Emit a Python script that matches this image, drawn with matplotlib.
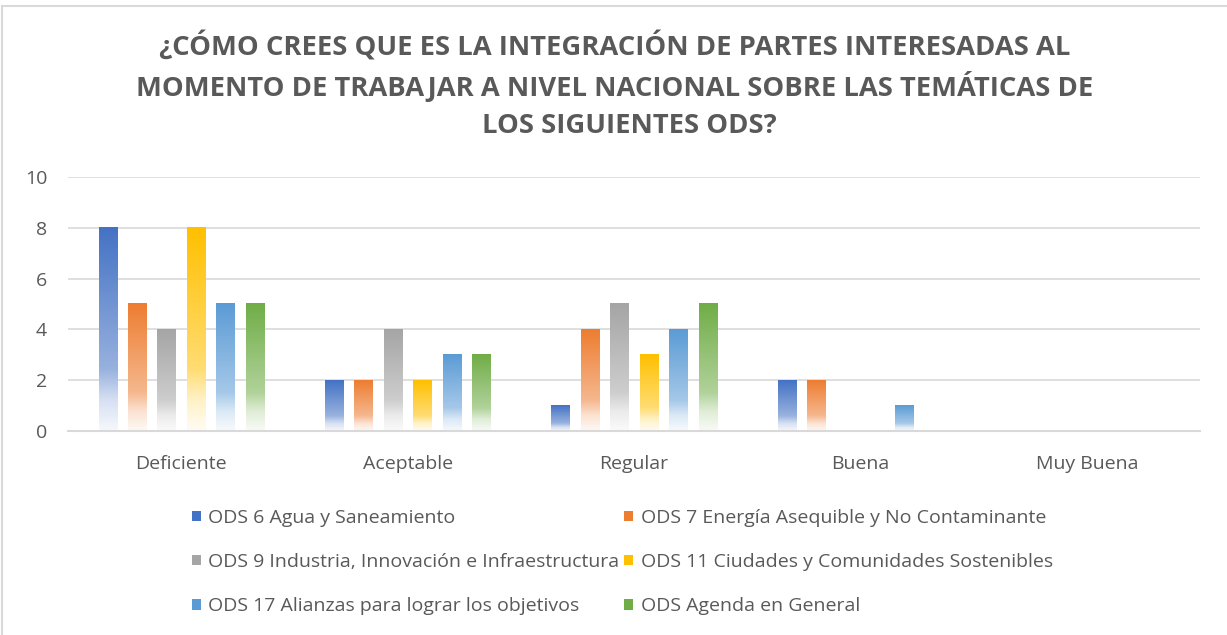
import numpy as np
import matplotlib.pyplot as plt
from matplotlib.patches import Patch, Rectangle
from matplotlib.colors import to_rgb

plt.rcParams['font.family'] = ['Open Sans', 'DejaVu Sans']

title_lines = ["¿CÓMO CREES QUE ES LA INTEGRACIÓN DE PARTES INTERESADAS AL",
               "MOMENTO DE TRABAJAR A NIVEL NACIONAL SOBRE LAS TEMÁTICAS DE",
               "LOS SIGUIENTES ODS?"]
categories = ["Deficiente", "Aceptable", "Regular", "Buena", "Muy Buena"]
series_names = [
    "ODS 6 Agua y Saneamiento",
    "ODS 7 Energía Asequible y No Contaminante",
    "ODS 9 Industria, Innovación e Infraestructura",
    "ODS 11 Ciudades y Comunidades Sostenibles",
    "ODS 17 Alianzas para lograr los objetivos",
    "ODS Agenda en General",
]
ods6 = [8, 2, 1, 2, 0]
ods7 = [5, 2, 4, 2, 0]
ods9 = [4, 4, 5, 0, 0]
ods11 = [8, 2, 3, 0, 0]
ods17 = [5, 3, 4, 1, 0]
agenda = [5, 3, 5, 0, 0]
series_values = [ods6, ods7, ods9, ods11, ods17, agenda]
colors = ["#4472C4", "#ED7D31", "#A5A5A5", "#FFC000", "#5B9BD5", "#70AD47"]

text_gray = "#595959"

fig = plt.figure(figsize=(12.27, 6.35), dpi=100)
ax = fig.add_axes([0.0554, 0.3213, 0.9226, 0.4])

x = np.arange(len(categories))
step = 0.13
width = 0.08


def gradient_img(color):
    c = np.array(to_rgb(color))
    w = np.ones(3)
    # position from top (0) to bottom (1) -> share of the colour kept
    stops_pos = [0.0, 0.70, 0.85, 1.0]
    stops_amt = [1.0, 0.55, 0.22, 0.05]
    t = np.linspace(0, 1, 100)
    amt = np.interp(t, stops_pos, stops_amt)
    rgb = amt[:, None] * c + (1 - amt[:, None]) * w
    return rgb[:, None, :]


for i, (vals, col) in enumerate(zip(series_values, colors)):
    bars = ax.bar(x + (i - 2.5) * step, vals, width, color="none",
                  edgecolor="none", zorder=2)
    img = gradient_img(col)
    for b in bars:
        h = b.get_height()
        if h <= 0:
            continue
        x0 = b.get_x()
        ax.imshow(img, extent=[x0, x0 + b.get_width(), 0, h],
                  aspect="auto", origin="upper", zorder=2,
                  interpolation="bilinear")

ax.set_xlim(-0.5, len(categories) - 0.5)
ax.set_ylim(0, 10)
ax.set_yticks(range(0, 11, 2))
ax.set_xticks(x)
ax.set_xticklabels(categories)
ax.tick_params(axis="both", length=0, colors=text_gray, labelsize=14)
ax.tick_params(axis="x", pad=17.5)
ax.tick_params(axis="y", pad=15)
ax.grid(axis="y", color="#D9D9D9", linewidth=1.2, zorder=0)
ax.set_axisbelow(True)
for s in ["top", "right", "left"]:
    ax.spines[s].set_visible(False)
ax.spines["bottom"].set_color("#D9D9D9")
ax.spines["bottom"].set_linewidth(1.5)

title_y = [47, 86, 126]
title_x = [0.501, 0.501, 0.5126]
for line, ty, tx in zip(title_lines, title_y, title_x):
    fig.text(tx, 1 - ty / 635, line, ha="center", va="center", fontsize=19.7,
             fontweight="bold", color=text_gray)

# row-major order like the reference (matplotlib fills legend by column)
order = [0, 2, 4, 1, 3, 5]
handles = [Patch(facecolor=colors[k], edgecolor="none") for k in order]
labels = [series_names[k] for k in order]
fig.legend(handles, labels, loc="upper left",
           bbox_to_anchor=(0.150, 0.211), ncol=2, frameon=False,
           fontsize=14, labelcolor=text_gray, handlelength=0.45,
           handleheight=0.45, handletextpad=0.4, columnspacing=0.25,
           labelspacing=1.35, borderaxespad=0)

# outer frame like the chart area border
fig.patches.append(Rectangle((0.002, -0.01), 1.2, 1.0, transform=fig.transFigure,
                             fill=False, edgecolor="#D9D9D9", linewidth=1.5))

fig.savefig("out.png", dpi=100)
